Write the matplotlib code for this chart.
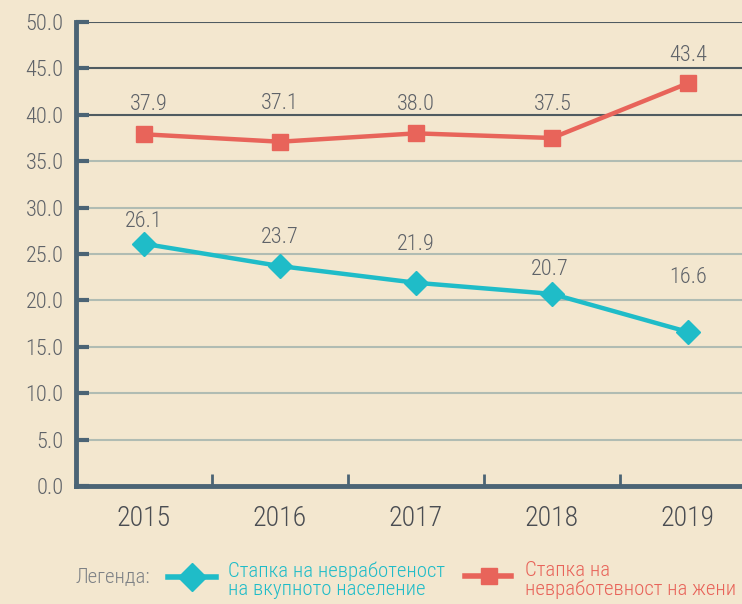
import matplotlib
matplotlib.use('Agg')
import matplotlib.pyplot as plt
from matplotlib.lines import Line2D
from matplotlib import font_manager

# data
years = ['2015', '2016', '2017', '2018', '2019']
total = [26.1, 23.7, 21.9, 20.7, 16.6]
women = [37.9, 37.1, 38.0, 37.5, 43.4]
yticks = [0, 5, 10, 15, 20, 25, 30, 35, 40, 45, 50]

# label offsets in pixels (dx, dy)
total_off = [(0, 22), (0, 29), (0, 38), (-2, 24), (0, 54)]
women_off = [(5, 30), (0, 38), (0, 29), (1, 34), (0, 28)]

names = {f.name for f in font_manager.fontManager.ttflist}
fam = [f for f in ['Roboto Condensed', 'Liberation Sans Narrow', 'Open Sans', 'DejaVu Sans'] if f in names]
plt.rcParams['font.family'] = fam
plt.rcParams['font.weight'] = 'light'

TEAL = '#1fbcc8'
RED = '#e8645a'
AXC = '#4b6475'
TXT = '#5e6268'
BG = '#f3e7cf'

fig = plt.figure(figsize=(7.42, 6.04), dpi=100, facecolor=BG)
ax = fig.add_axes([76 / 742, 118 / 604, 680 / 742, 464 / 604])
ax.set_facecolor(BG)

x = list(range(len(years)))

# gridlines: top ones darker, lower ones lighter
for v in yticks[1:]:
    c = '#4f5b61' if v >= 40 else '#b0bcb3'
    ax.axhline(v, color=c, lw=1.5, zorder=1)

ax.plot(x, total, color=TEAL, lw=3.2, marker='D', ms=12, zorder=3)
ax.plot(x, women, color=RED, lw=3.2, marker='s', ms=12, zorder=3)

for xi, v, (dx, dy) in zip(x, total, total_off):
    ax.annotate(f'{v:.1f}', (xi, v), xytext=(dx, dy), textcoords='offset pixels',
                ha='center', va='center', fontsize=16, color=TXT, zorder=4)
for xi, v, (dx, dy) in zip(x, women, women_off):
    ax.annotate(f'{v:.1f}', (xi, v), xytext=(dx, dy), textcoords='offset pixels',
                ha='center', va='center', fontsize=16, color=TXT, zorder=4)

ax.set_xlim(-0.5, 4.5)
ax.set_ylim(0, 50)
ax.set_yticks(yticks)
ax.set_yticklabels([f'{v:.1f}' for v in yticks])
ax.set_xticks(x)
ax.set_xticklabels(years)
ax.set_xticks([i + 0.5 for i in x[:-1]], minor=True)

for s in ['top', 'right']:
    ax.spines[s].set_visible(False)
for s in ['left', 'bottom']:
    ax.spines[s].set_color(AXC)
    ax.spines[s].set_linewidth(3.5)

ax.tick_params(axis='y', direction='in', length=9, width=3, color=AXC,
               labelsize=16, labelcolor=TXT, pad=9)
ax.tick_params(axis='x', which='major', length=0, labelsize=20, labelcolor='#4a4d52', pad=14)
ax.tick_params(axis='x', which='minor', direction='in', length=9, width=2, color=AXC)

# legend
fig.text(75 / 742, 1 - 577 / 604, 'Легенда:', fontsize=15, color='#7d8185',
         va='center', ha='left')
fig.add_artist(Line2D([168 / 742, 216 / 742], [1 - 577 / 604] * 2, color=TEAL, lw=4,
                      transform=fig.transFigure))
fig.add_artist(Line2D([192 / 742], [1 - 577 / 604], color=TEAL, marker='D', ms=14, lw=0,
                      transform=fig.transFigure))
fig.text(228 / 742, 1 - 580 / 604, 'Стапка на невработеност\nна вкупното население',
         fontsize=15, color=TEAL, va='center', ha='left', linespacing=0.95)
fig.add_artist(Line2D([465 / 742, 511 / 742], [1 - 576 / 604] * 2, color=RED, lw=4,
                      transform=fig.transFigure))
fig.add_artist(Line2D([489 / 742], [1 - 576 / 604], color=RED, marker='s', ms=12, lw=0,
                      transform=fig.transFigure))
fig.text(525 / 742, 1 - 580 / 604, 'Стапка на\nневработевност на жени',
         fontsize=15, color=RED, va='center', ha='left', linespacing=0.95)

fig.savefig('out.png', dpi=100, facecolor=BG)
